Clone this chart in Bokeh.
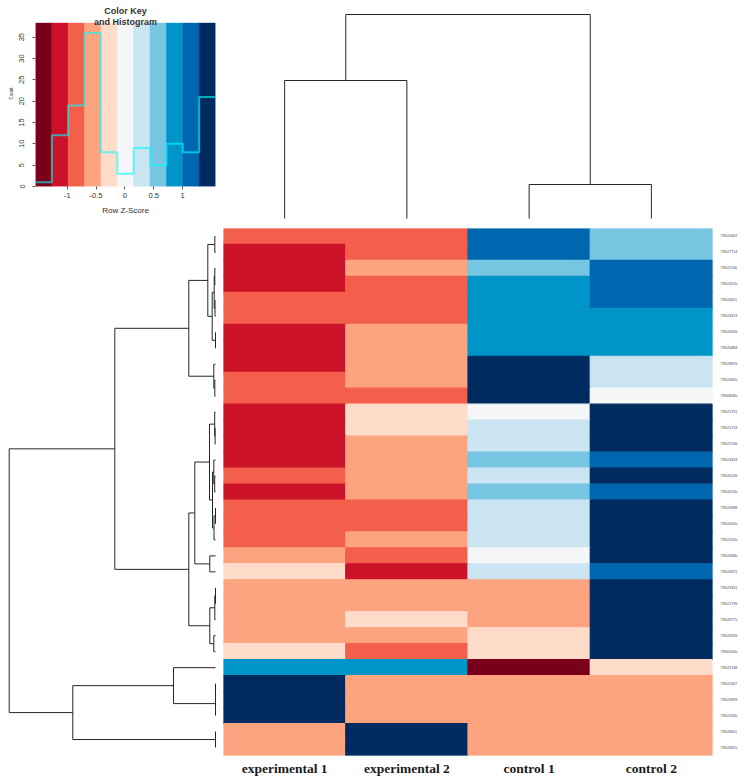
import numpy as np
from bokeh.plotting import figure
from bokeh.models import (ColumnDataSource, Range1d, FactorRange, FixedTicker,
                          Label, LinearColorMapper)
from bokeh.layouts import row, column
from bokeh.embed import file_html
from bokeh.resources import INLINE
from bokeh.transform import transform

# ---------------- data ----------------
samples = ["experimental 1", "experimental 2", "control 1", "control 2"]

genes = ["TR020402", "TR027714", "TR021140", "TR024520", "TR024011", "TR024323",
         "TR020956", "TR020884", "TR026876", "TR020665", "TR008480", "TR021751",
         "TR021753", "TR021766", "TR024324", "TR020136", "TR020130", "TR020988",
         "TR020550", "TR021020", "TR020680", "TR020871", "TR023351", "TR021796",
         "TR026775", "TR020596", "TR005400", "TR021748", "TR021067", "TR020899",
         "TR021065", "TR026611", "TR020815"]

# row z-scores, one list per gene (experimental 1, experimental 2, control 1, control 2)
z_scores = [
    [-0.85, -0.85, 1.15, 0.55],
    [-1.10, -0.75, 1.20, 0.65],
    [-1.15, -0.55, 0.55, 1.15],
    [-1.20, -0.75, 0.85, 1.10],
    [-0.95, -0.85, 0.78, 1.02],
    [-0.87, -0.87, 0.87, 0.87],
    [-1.15, -0.55, 0.85, 0.85],
    [-1.15, -0.55, 0.85, 0.85],
    [-1.10, -0.65, 1.45, 0.30],
    [-0.95, -0.65, 1.35, 0.25],
    [-0.80, -0.75, 1.50, 0.05],
    [-1.20, -0.30, 0.05, 1.45],
    [-1.24, -0.28, 0.18, 1.34],
    [-1.10, -0.50, 0.25, 1.35],
    [-1.15, -0.55, 0.55, 1.15],
    [-0.90, -0.65, 0.20, 1.35],
    [-1.15, -0.55, 0.55, 1.15],
    [-0.80, -0.80, 0.20, 1.40],
    [-0.80, -0.80, 0.20, 1.40],
    [-0.90, -0.65, 0.20, 1.35],
    [-0.60, -0.85, 0.00, 1.45],
    [-0.30, -1.20, 0.30, 1.20],
    [-0.50, -0.50, -0.50, 1.50],
    [-0.50, -0.50, -0.50, 1.50],
    [-0.60, -0.35, -0.55, 1.50],
    [-0.55, -0.60, -0.35, 1.50],
    [-0.30, -0.85, -0.30, 1.45],
    [0.87, 0.87, -1.47, -0.27],
    [1.50, -0.50, -0.50, -0.50],
    [1.50, -0.50, -0.50, -0.50],
    [1.50, -0.50, -0.50, -0.50],
    [-0.50, 1.50, -0.50, -0.50],
    [-0.50, 1.50, -0.50, -0.50],
]

key_low, key_high, n_colors = -1.55, 1.57, 11
key_count_max = 38.3          # top of the colour bands
key_plot_top = 43.6           # room above the bands for the title
key_xticks = [-1, -0.5, 0, 0.5, 1]
key_xtick_labels = ["-1", "-0.5", "0", "0.5", "1"]
key_yticks = [0, 5, 10, 15, 20, 25, 30, 35]

palette = ["#790019", "#CB1228", "#F45F4B", "#FCA37F", "#FEDCC9", "#F5F6F8",
           "#CAE4F1", "#76C6E2", "#0095C9", "#0066B0", "#002B60"]

# row dendrogram: merges (negative = leaf in display order, positive = earlier merge)
row_merge = [(-1, -2), (-3, -4), (-5, -6), (2, 3), (-7, -8), (4, 5), (1, 6),
             (-10, -11), (-9, 8), (7, 9), (-13, -14), (-12, 11), (-16, -17),
             (-15, 13), (-18, -19), (15, -20), (14, 16), (12, 17), (-21, -22),
             (18, 19), (-23, -24), (21, -25), (-26, -27), (22, 23), (20, 24),
             (10, 25), (-29, -30), (27, -31), (-28, 28), (-32, -33), (29, 30),
             (26, 31)]
row_height = [0.7, 0.7, 0.5, 1.3, 0.0, 3.3, 7.7, 0.7, 1.7, 26.7, 0.4, 0.8, 0.8,
              1.7, 0.0, 1.5, 3.0, 6.0, 5.7, 20.7, 0.0, 0.7, 1.7, 5.7, 26.7,
              100.7, 0.0, 0.0, 42.0, 0.0, 142.7, 206.3]

# column dendrogram
col_merge = [(-1, -2), (-3, -4), (1, 2)]
col_height = [138.0, 34.0, 204.0]

# ---------------- helpers ----------------
def dendro_segments(merge, heights):
    pos, hts = {}, {}
    seg_p, seg_h = [], []

    def get(c):
        if c < 0:
            return -c - 0.5, 0.0
        return pos[c], hts[c]

    for k, ((a, b), h) in enumerate(zip(merge, heights), start=1):
        pa, ha = get(a)
        pb, hb = get(b)
        seg_p.append([pa, pa, pb, pb])
        seg_h.append([ha, h, h, hb])
        pos[k] = (pa + pb) / 2
        hts[k] = h
    return seg_p, seg_h


def clean(p):
    p.grid.visible = False
    p.outline_line_color = None
    p.background_fill_color = "white"
    p.border_fill_color = "white"


LINE = "#262626"
SANS = "Liberation Sans"
LEFT_W, RIGHT_W, TOP_H, BOT_H = 223, 523, 228, 552

# ---------------- colour key + histogram ----------------
breaks = np.linspace(key_low, key_high, n_colors + 1)
z = np.array(z_scores)
counts, _ = np.histogram(z.ravel(), bins=breaks)

key = figure(width=LEFT_W, height=TOP_H, x_range=Range1d(key_low, key_high),
             y_range=Range1d(0, key_plot_top), toolbar_location=None,
             output_backend="svg", min_border_left=35, min_border_right=8,
             min_border_top=0, min_border_bottom=42)
clean(key)
key.quad(left=breaks[:-1], right=breaks[1:], bottom=0, top=key_count_max,
         fill_color=palette, line_color=palette, line_width=0.5)
key.step(x=breaks, y=np.append(counts, counts[-1]), mode="after",
         line_color="#00FFFF", line_alpha=0.6, line_width=2)

key.xaxis.ticker = FixedTicker(ticks=key_xticks)
key.xaxis.major_label_overrides = {t: s for t, s in zip(key_xticks, key_xtick_labels)}
key.xaxis.axis_label = "Row Z-Score"
key.yaxis.ticker = FixedTicker(ticks=key_yticks)
key.yaxis.axis_label = "Count"
key.yaxis.major_label_orientation = "vertical"
for ax in (key.xaxis[0], key.yaxis[0]):
    ax.axis_line_color = None
    ax.major_tick_line_color = "#555555"
    ax.major_tick_out = 3
    ax.major_tick_in = 0
    ax.minor_tick_line_color = None
    ax.major_label_text_font = SANS
    ax.major_label_text_font_size = "7.5px"
    ax.major_label_text_color = "#333333"
    ax.major_label_standoff = 3
    ax.axis_label_text_font = SANS
    ax.axis_label_text_font_style = "normal"
    ax.axis_label_text_color = "#333333"
key.yaxis.major_label_standoff = 8
key.xaxis.axis_label_text_font_size = "8px"
key.xaxis.axis_label_standoff = 5
key.yaxis.axis_label_text_font_size = "4.5px"
key.yaxis.axis_label_standoff = 3

mid = (key_low + key_high) / 2
for txt, yy in (("Color Key", key_count_max + 2.8), ("and Histogram", key_count_max + 0.3)):
    key.add_layout(Label(x=mid, y=yy, text=txt, text_align="center",
                         text_baseline="middle", text_font=SANS,
                         text_font_style="bold", text_font_size="9px",
                         text_color="#333333"))

# ---------------- column dendrogram ----------------
cp, ch = dendro_segments(col_merge, col_height)
topd = figure(width=RIGHT_W, height=TOP_H, x_range=Range1d(0, len(samples)),
              y_range=Range1d(-10, 218), toolbar_location=None,
              output_backend="svg", min_border_left=0, min_border_right=34,
              min_border_top=0, min_border_bottom=0)
clean(topd)
topd.axis.visible = False
topd.multi_line(xs=cp, ys=ch, line_color=LINE, line_width=1)

# ---------------- row dendrogram ----------------
rp, rh = dendro_segments(row_merge, row_height)
rowd = figure(width=LEFT_W, height=BOT_H, x_range=Range1d(215, -8),
              y_range=Range1d(len(genes), 0), toolbar_location=None,
              output_backend="svg", min_border_left=0, min_border_right=0,
              min_border_top=0, min_border_bottom=25)
clean(rowd)
rowd.axis.visible = False
rowd.multi_line(xs=rh, ys=rp, line_color=LINE, line_width=1)

# ---------------- heatmap ----------------
xs, ys, zs = [], [], []
for g, vals in zip(genes, z_scores):
    for s, v in zip(samples, vals):
        xs.append(s)
        ys.append(g)
        zs.append(v)
src = ColumnDataSource(dict(sample=xs, gene=ys, z=zs))
mapper = LinearColorMapper(palette=palette, low=key_low, high=key_high)

heat = figure(width=RIGHT_W, height=BOT_H, x_range=FactorRange(*samples),
              y_range=FactorRange(*genes[::-1]), toolbar_location=None,
              output_backend="svg", x_axis_location="below",
              y_axis_location="right", min_border_left=0, min_border_right=34,
              min_border_top=0, min_border_bottom=25)
clean(heat)
heat.rect(x="sample", y="gene", width=1, height=1, source=src,
          fill_color=transform("z", mapper), line_color=transform("z", mapper),
          line_width=1.2)
for ax in (heat.xaxis[0], heat.yaxis[0]):
    ax.axis_line_color = None
    ax.major_tick_line_color = None
    ax.minor_tick_line_color = None
    ax.major_tick_out = 0
    ax.major_tick_in = 0
heat.xaxis.major_label_text_font = "Liberation Serif"
heat.xaxis.major_label_text_font_style = "bold"
heat.xaxis.major_label_text_font_size = "13.5px"
heat.xaxis.major_label_text_color = "#1a1a1a"
heat.xaxis.major_label_standoff = 5
heat.yaxis.major_label_text_font = SANS
heat.yaxis.major_label_text_font_size = "3.6px"
heat.yaxis.major_label_text_color = "#444444"
heat.yaxis.major_label_standoff = 8

# wrap each left-hand figure in its own row so their frames are not aligned
left = column(row(key), row(rowd))
layout = row(left, column(topd, heat))
open("out.html", "w").write(file_html(layout, INLINE))
